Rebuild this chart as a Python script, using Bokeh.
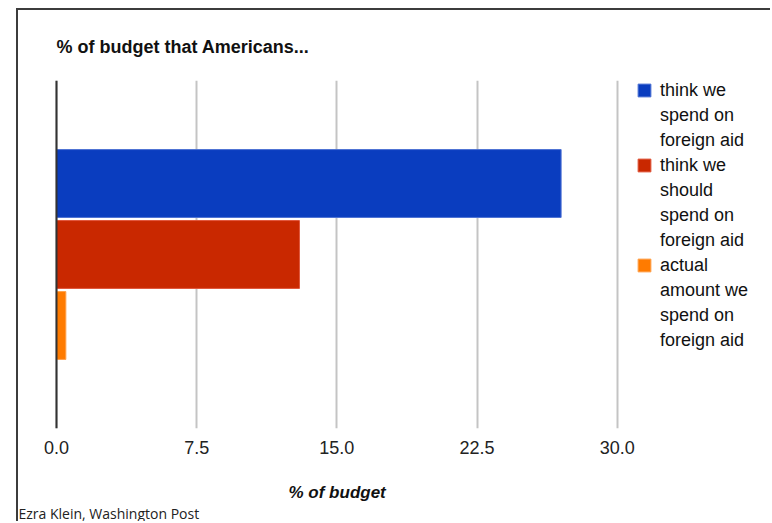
from bokeh.plotting import figure
from bokeh.models import (FactorRange, Range1d, FixedTicker, NumeralTickFormatter,
                          Span, Legend, LegendItem, Title, LinearAxis, ColumnDataSource)
from bokeh.transform import dodge
from bokeh.embed import file_html
from bokeh.resources import INLINE

# ---- data ----
group = ["Americans"]
series_labels = [
    ["think we", "spend on", "foreign aid"],
    ["think we", "should", "spend on", "foreign aid"],
    ["actual", "amount we", "spend on", "foreign aid"],
]
pct_of_budget = [27.0, 13.0, 0.5]
x_ticks = [0, 7.5, 15, 22.5, 30]
title_text = "% of budget that Americans..."
x_label = "% of budget"
source_note = "Ezra Klein, Washington Post"

# ---- styles ----
fills = ["#0a3dbf", "#c92800", "#ff7b00"]
edges = ["#4d72d4", "#e0553a", "#ffa24d"]
SANS = "Liberation Sans"

p = figure(
    width=754, height=513,
    x_range=Range1d(-0.107, 38.31),
    y_range=FactorRange(factors=group, range_padding=0),
    output_backend="svg", toolbar_location=None,
    y_axis_location=None,
    min_border_left=36, min_border_right=0, min_border_top=70, min_border_bottom=95,
    title=title_text,
    styles={"margin-left": "16px", "margin-top": "8px",
            "border-left": "2px solid #3c3c3c", "border-top": "2px solid #3c3c3c"},
)
p.outline_line_color = None
p.background_fill_color = "white"
p.border_fill_color = "white"

p.title.align = "left"
p.title.offset = 2
p.title.standoff = 48
p.title.text_font = SANS
p.title.text_font_size = "18px"
p.title.text_font_style = "bold"
p.title.text_color = "#111111"

n = len(pct_of_budget)
slot = 0.204
bar_h = 0.195
items = []
for i in range(n):
    src = ColumnDataSource(dict(cat=group, val=[pct_of_budget[i]]))
    off = (n - 1) / 2 * slot - i * slot
    r = p.hbar(y=dodge("cat", off, range=p.y_range), left=0, right="val",
               height=bar_h, source=src,
               fill_color=fills[i], line_color=edges[i], line_width=1)
    lines = series_labels[i]
    items.append(LegendItem(label=lines[0], renderers=[r]))
    for ln in lines[1:]:
        items.append(LegendItem(label=ln, renderers=[]))

p.add_layout(Span(location=0, dimension="height", line_color="#333333", line_width=2))

xa = p.xaxis[0]
xa.ticker = FixedTicker(ticks=x_ticks)
xa.formatter = NumeralTickFormatter(format="0.0")
xa.axis_line_color = None
xa.major_tick_line_color = None
xa.minor_tick_line_color = None
xa.major_label_standoff = 6
xa.major_label_text_font = SANS
xa.major_label_text_font_size = "18px"
xa.major_label_text_color = "#222222"

p.xgrid.grid_line_color = "#c4c4c4"
p.xgrid.grid_line_width = 2
p.ygrid.grid_line_color = None

legend = Legend(items=items, location=(582, 77), padding=0, margin=0,
                spacing=3, glyph_width=16, glyph_height=16, label_standoff=8,
                label_height=22,
                label_text_font=SANS, label_text_font_size="18px",
                label_text_color="#111111",
                border_line_color=None, background_fill_alpha=0)
p.add_layout(legend)

# invisible spacer axis (one hidden tick, no label) opening the gap above the axis title
spacer = LinearAxis(ticker=FixedTicker(ticks=[x_ticks[0]]), axis_line_color=None,
                    major_tick_line_color=None, minor_tick_line_color=None,
                    major_tick_in=0, major_tick_out=24, minor_tick_out=0,
                    major_label_standoff=0, major_label_text_font_size="0px",
                    major_label_overrides={x_ticks[0]: ""})
p.add_layout(spacer, "below")

# x-axis title, centred under the 0-30 scale
axis_title = Title(text=x_label, align="left", offset=234, standoff=0,
                   text_font=SANS, text_font_size="17px", text_font_style="bold italic",
                   text_color="#111111")
p.add_layout(axis_title, "below")

note = Title(text=source_note, align="left", offset=-36, standoff=0,
             text_font="Open Sans", text_font_size="14px", text_font_style="normal",
             text_color="#222222")
p.add_layout(note, "below")

open("out.html", "w").write(file_html(p, INLINE))
